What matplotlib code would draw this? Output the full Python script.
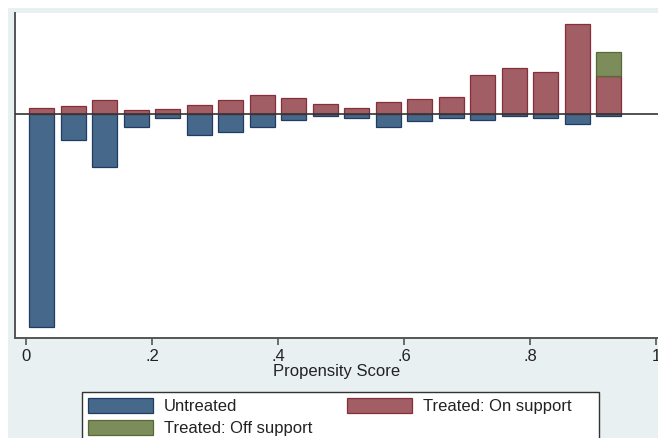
#!/usr/bin/env python3
"""
Propensity score common-support histogram.
Untreated counts hang below the zero line, treated counts stand above it.
"""

import matplotlib
matplotlib.use("Agg")
import matplotlib.pyplot as plt
from matplotlib.patches import Rectangle

# Bin midpoints of the propensity score (bin width 0.05)
bin_mid = [0.025, 0.075, 0.125, 0.175, 0.225, 0.275, 0.325, 0.375, 0.425, 0.475,
           0.525, 0.575, 0.625, 0.675, 0.725, 0.775, 0.825, 0.875, 0.925]

# Frequencies per bin
untreated = [213, 25.7, 52.7, 12.7, 4.3, 21.3, 17.7, 13, 6.3, 1.7,
             4.3, 13, 7.3, 4.3, 5.7, 1.7, 4.3, 10, 1.7]
treated_on = [6, 8, 13.7, 3.7, 4.7, 9, 13.7, 18.7, 15.7, 9.7,
              5.7, 11.7, 14.7, 16.7, 38.7, 45.7, 42.3, 89.7, 38]
treated_off = [0, 0, 0, 0, 0, 0, 0, 0, 0, 0,
               0, 0, 0, 0, 0, 0, 0, 0, 23.7]

x_ticks = [0, 0.2, 0.4, 0.6, 0.8, 1.0]
x_tick_labels = ["0", ".2", ".4", ".6", ".8", "1"]

# Stata s2color-like palette
BLUE, BLUE_EDGE = "#46688a", "#1f3d63"
RED, RED_EDGE = "#a15f65", "#862f3b"
GREEN, GREEN_EDGE = "#7d8c5b", "#566a33"
BG = "#e8f0f2"
INK = "#222222"

plt.rcParams["font.family"] = ["Liberation Sans", "DejaVu Sans"]

W, H = 658, 438
fig = plt.figure(figsize=(W / 100, H / 100), dpi=100, facecolor="white")

# graph region background
fig.patches.append(Rectangle((8 / W, 0), 1, (H - 8) / H, transform=fig.transFigure,
                             facecolor=BG, edgecolor="none", zorder=-5))

ax = fig.add_axes([14.5 / W, (H - 338) / H, (W - 14.5) / W, (338 - 13) / H])
ax.set_facecolor("white")

width = 0.04
ax.bar(bin_mid, [-v for v in untreated], width=width, color=BLUE,
       edgecolor=BLUE_EDGE, linewidth=0.9, label="Untreated", zorder=2)
ax.bar(bin_mid, treated_on, width=width, color=RED,
       edgecolor=RED_EDGE, linewidth=0.9, label="Treated: On support", zorder=2)

# off-support treated only occur in a few bins; stack them on the on-support bars
off = [(x, v, b) for x, v, b in zip(bin_mid, treated_off, treated_on) if v > 0]
ax.bar([o[0] for o in off], [o[1] for o in off], width=width,
       bottom=[o[2] for o in off], color=GREEN, edgecolor=GREEN_EDGE,
       linewidth=0.9, label="Treated: Off support", zorder=2)

ax.axhline(0, color="#333333", linewidth=1.2, zorder=3)

ax.set_xlim((14.5 - 26) / 630, (W - 26) / 630)
ax.set_ylim(-224, 101)

for side in ("top", "right"):
    ax.spines[side].set_visible(False)
for side in ("left", "bottom"):
    ax.spines[side].set_color("#555555")
    ax.spines[side].set_linewidth(1.4)

ax.set_yticks([])
ax.set_xticks(x_ticks)
ax.set_xticklabels(x_tick_labels, fontsize=12, color=INK)
ax.tick_params(axis="x", direction="out", length=5, width=1.2, color="#555555", pad=3)
ax.set_xlabel("Propensity Score", fontsize=12, color=INK, labelpad=0)

# legend box, running off the bottom edge
fig.patches.append(Rectangle((82 / W, -0.05), (599 - 82) / W, (H - 392) / H + 0.05,
                             transform=fig.transFigure, facecolor="white",
                             edgecolor="#333333", linewidth=1.0, zorder=1))

handles, labels = ax.get_legend_handles_labels()
order = [0, 2, 1]
fig.legend([handles[i] for i in order], [labels[i] for i in order],
           loc="upper left", bbox_to_anchor=(82 / W, (H - 392) / H),
           ncol=2, frameon=False, fontsize=12, labelcolor=INK,
           handlelength=3.9, handleheight=1.0, handletextpad=0.65,
           columnspacing=2.1, labelspacing=0.35, borderpad=0.35,
           borderaxespad=0)

fig.savefig("out.png", dpi=100)
